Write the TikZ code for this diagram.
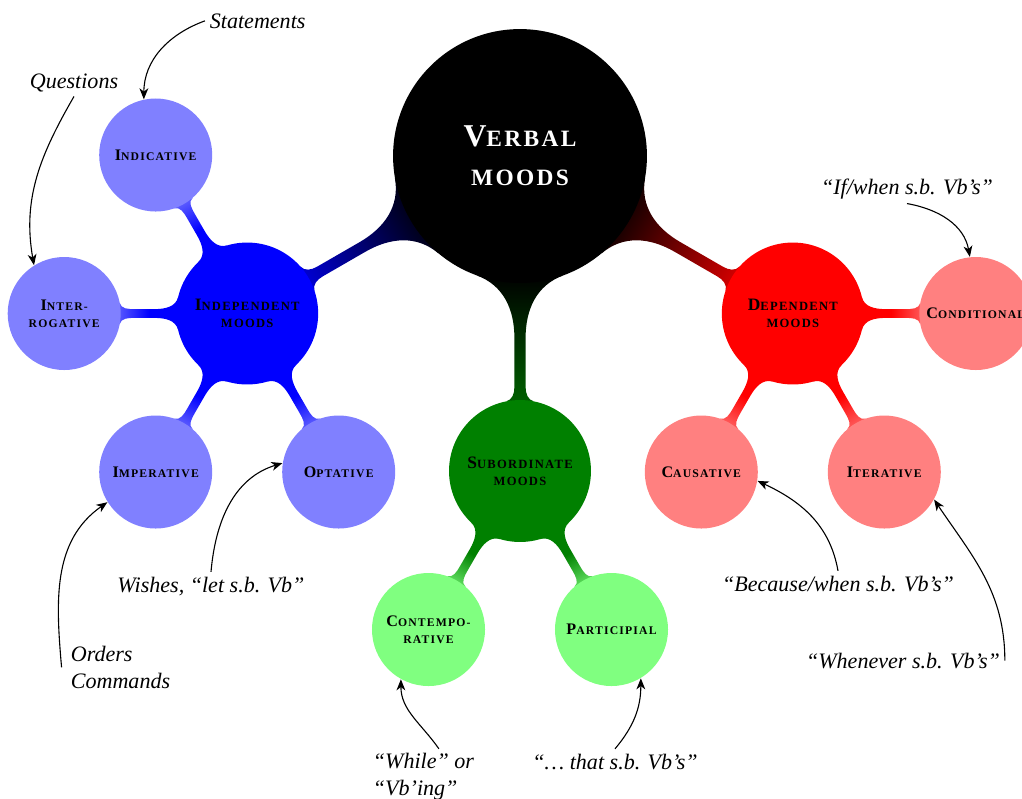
\documentclass[tikz,border=0pt]{standalone}
\usepackage{fontspec}
\setmainfont{Liberation Serif}
\newfontfamily\conceptfont{Liberation Serif}[LetterSpace=10]
\usetikzlibrary{arrows.meta,backgrounds}
\colorlet{dgreen}{green!50!black}
\colorlet{lblue}{blue!50}
\colorlet{lgreen}{green!50}
\colorlet{lred}{red!50}
\pgfdeclarehorizontalshading{bkblue}{100bp}{color(0bp)=(black); color(25bp)=(black); color(92bp)=(blue); color(100bp)=(blue)}
\pgfdeclarehorizontalshading{bkgreen}{100bp}{color(0bp)=(black); color(25bp)=(black); color(92bp)=(dgreen); color(100bp)=(dgreen)}
\pgfdeclarehorizontalshading{bkred}{100bp}{color(0bp)=(black); color(25bp)=(black); color(92bp)=(red); color(100bp)=(red)}
\pgfdeclarehorizontalshading{bluelb}{100bp}{color(0bp)=(blue); color(50bp)=(blue); color(88bp)=(lblue); color(100bp)=(lblue)}
\pgfdeclarehorizontalshading{greenlg}{100bp}{color(0bp)=(dgreen); color(50bp)=(dgreen); color(88bp)=(lgreen); color(100bp)=(lgreen)}
\pgfdeclarehorizontalshading{redlr}{100bp}{color(0bp)=(red); color(50bp)=(red); color(88bp)=(lred); color(100bp)=(lred)}
\newcommand\scx[2]{#1{\scsize #2}}
\newcommand\rootfont{\conceptfont\bfseries\fontsize{14.4}{17.7}\selectfont\def\scsize{\fontsize{10.6}{17.7}\selectfont}}
\newcommand\lvonefont{\conceptfont\bfseries\fontsize{7.9}{7.7}\selectfont\def\scsize{\fontsize{5.7}{7.7}\selectfont}}
\newcommand\lvtwofont{\conceptfont\bfseries\fontsize{7.3}{7.7}\selectfont\def\scsize{\fontsize{5.3}{7.7}\selectfont}}
% bar geometry (in px units): parent radius, child radius, distance, neck half width,
% contact angles, fillet lengths
\newcommand\barroot{\def\bR{127}\def\br{71}\def\bD{315}\def\bh{5.6}\def\bpp{20}\def\bpc{11.5}\def\bap{55}\def\bac{13}}
\newcommand\barlv{\def\bR{71}\def\br{56.5}\def\bD{183}\def\bh{4.4}\def\bpp{13.5}\def\bpc{11}\def\bap{22}\def\bac{14}}
\newcommand\conbar[5]{%
  #5%
  \pgfmathsetmacro\oA{\bpp-90}\pgfmathsetmacro\oB{270-\bpc}%
  \pgfmathsetmacro\oC{90+\bpc}\pgfmathsetmacro\oD{90-\bpp}%
  \pgfmathsetmacro\xa{\bR+\bap}\pgfmathsetmacro\xb{\bD-\br-\bac}%
  \pgfmathsetmacro\xc{\bD-\br*cos(\bpc)}\pgfmathsetmacro\yc{\br*sin(\bpc)}%
  \pgfmathsetmacro\xp{\bR*cos(\bpp)}\pgfmathsetmacro\yp{\bR*sin(\bpp)}%
  \begin{scope}[shift={(#1.center)}, rotate=#3, x=0.453pt, y=0.453pt]
    \shade[shading=#4, shading angle=#3]
      (\xp,\yp) to[out=\oA, in=180] (\xa,\bh)
      -- (\xb,\bh) to[out=0, in=\oB] (\xc,\yc)
      -- (\xc,-\yc) to[out=\oC, in=0] (\xb,-\bh)
      -- (\xa,-\bh) to[out=180, in=\oD] (\xp,-\yp) -- cycle;
  \end{scope}}
\tikzset{
  cpt/.style={circle, inner sep=0pt, align=center, text=black},
  rootc/.style={cpt, fill=black, text=white, minimum size=115pt, font=\rootfont},
  lvone/.style={cpt, minimum size=64.3pt, font=\lvonefont},
  lvtwo/.style={cpt, minimum size=51.2pt, font=\lvtwofont},
  anno/.style={font=\fontsize{10}{11.8}\selectfont\itshape, inner sep=2pt},
  annoarrow/.style={-{Stealth[length=5pt,width=4pt,inset=1.5pt]}, line width=0.5pt},
}
\begin{document}
\begin{tikzpicture}[x=0.453pt,y=-0.453pt]
\useasboundingbox (0,0) rectangle (1022,798);
% concepts
\node[rootc] (root) at (520,156) {\scx{V}{ERBAL}\\{\scsize MOODS}};
\node[lvone, fill=blue] (indep) at (247.2,313.5) {\scx{I}{NDEPENDENT}\\{\scsize MOODS}};
\node[lvone, fill=dgreen] (sub) at (520,471) {\scx{S}{UBORDINATE}\\{\scsize MOODS}};
\node[lvone, fill=red] (dep) at (792.8,313.5) {\scx{D}{EPENDENT}\\{\scsize MOODS}};
\node[lvtwo, fill=lblue] (ind) at (155.7,155) {\scx{I}{NDICATIVE}};
\node[lvtwo, fill=lblue] (inter) at (64.2,313.5) {\scx{I}{NTER-}\\{\scsize ROGATIVE}};
\node[lvtwo, fill=lblue] (imp) at (155.7,472) {\scx{I}{MPERATIVE}};
\node[lvtwo, fill=lblue] (opt) at (338.7,472) {\scx{O}{PTATIVE}};
\node[lvtwo, fill=lgreen] (cont) at (428.5,629.5) {\scx{C}{ONTEMPO-}\\{\scsize RATIVE}};
\node[lvtwo, fill=lgreen] (part) at (611.5,629.5) {\scx{P}{ARTICIPIAL}};
\node[lvtwo, fill=lred] (cond) at (975.8,313.5) {\scx{C}{ONDITIONAL}};
\node[lvtwo, fill=lred] (caus) at (701.3,472) {\scx{C}{AUSATIVE}};
\node[lvtwo, fill=lred] (iter) at (884.3,472) {\scx{I}{TERATIVE}};
% connection bars
\begin{pgfonlayer}{background}
\conbar{root}{indep}{210}{bkblue}{\barroot}
\conbar{root}{sub}{270}{bkgreen}{\barroot}
\conbar{root}{dep}{330}{bkred}{\barroot}
\conbar{indep}{ind}{120}{bluelb}{\barlv}
\conbar{indep}{inter}{180}{bluelb}{\barlv}
\conbar{indep}{imp}{240}{bluelb}{\barlv}
\conbar{indep}{opt}{300}{bluelb}{\barlv}
\conbar{sub}{cont}{240}{greenlg}{\barlv}
\conbar{sub}{part}{300}{greenlg}{\barlv}
\conbar{dep}{cond}{0}{redlr}{\barlv}
\conbar{dep}{caus}{240}{redlr}{\barlv}
\conbar{dep}{iter}{300}{redlr}{\barlv}
\end{pgfonlayer}
% annotations
\node[anno, anchor=base west] (stmt) at (205,28) {Statements};
\node[anno, anchor=base west] (quest) at (25,88) {Questions};
\node[anno, anchor=base west, align=left] (orders) at (66,688) {Orders\\Commands};
\node[anno, anchor=base] (wish) at (211,592) {Wishes, “let s.b. Vb”};
\node[anno, anchor=base] (ifw) at (907,194) {“If/when s.b. Vb’s”};
\node[anno, anchor=base] (because) at (838,591) {“Because/when s.b. Vb’s”};
\node[anno, anchor=base] (whenever) at (903,668) {“Whenever s.b. Vb’s”};
\node[anno, anchor=base west, align=left] (while) at (368,795) {“While” or\\“Vb’ing”};
\node[anno, anchor=base] (that) at (615,769) {“\ldots{} that s.b. Vb’s”};
% annotation arrows
\draw[annoarrow] (stmt.west) to[out=200,in=90] (ind.102);
\draw[annoarrow] (quest.south) to[out=240,in=100] (inter.122);
\draw[annoarrow] ([xshift=-2pt]orders.west) to[out=95,in=215] (imp.212);
\draw[annoarrow] (wish.north) to[out=85,in=197] (opt.171);
\draw[annoarrow] (ifw.south) to[out=-10,in=100] (cond.96);
\draw[annoarrow] (because.north) to[out=100,in=-25] (caus.-9);
\draw[annoarrow] (whenever.east) to[out=90,in=-56] (iter.-29);
\draw[annoarrow] ([xshift=7pt]while.north) to[out=125,in=-90] (cont.241);
\draw[annoarrow] (that.north) to[out=50,in=-90] (part.-59);
\end{tikzpicture}
\end{document}
